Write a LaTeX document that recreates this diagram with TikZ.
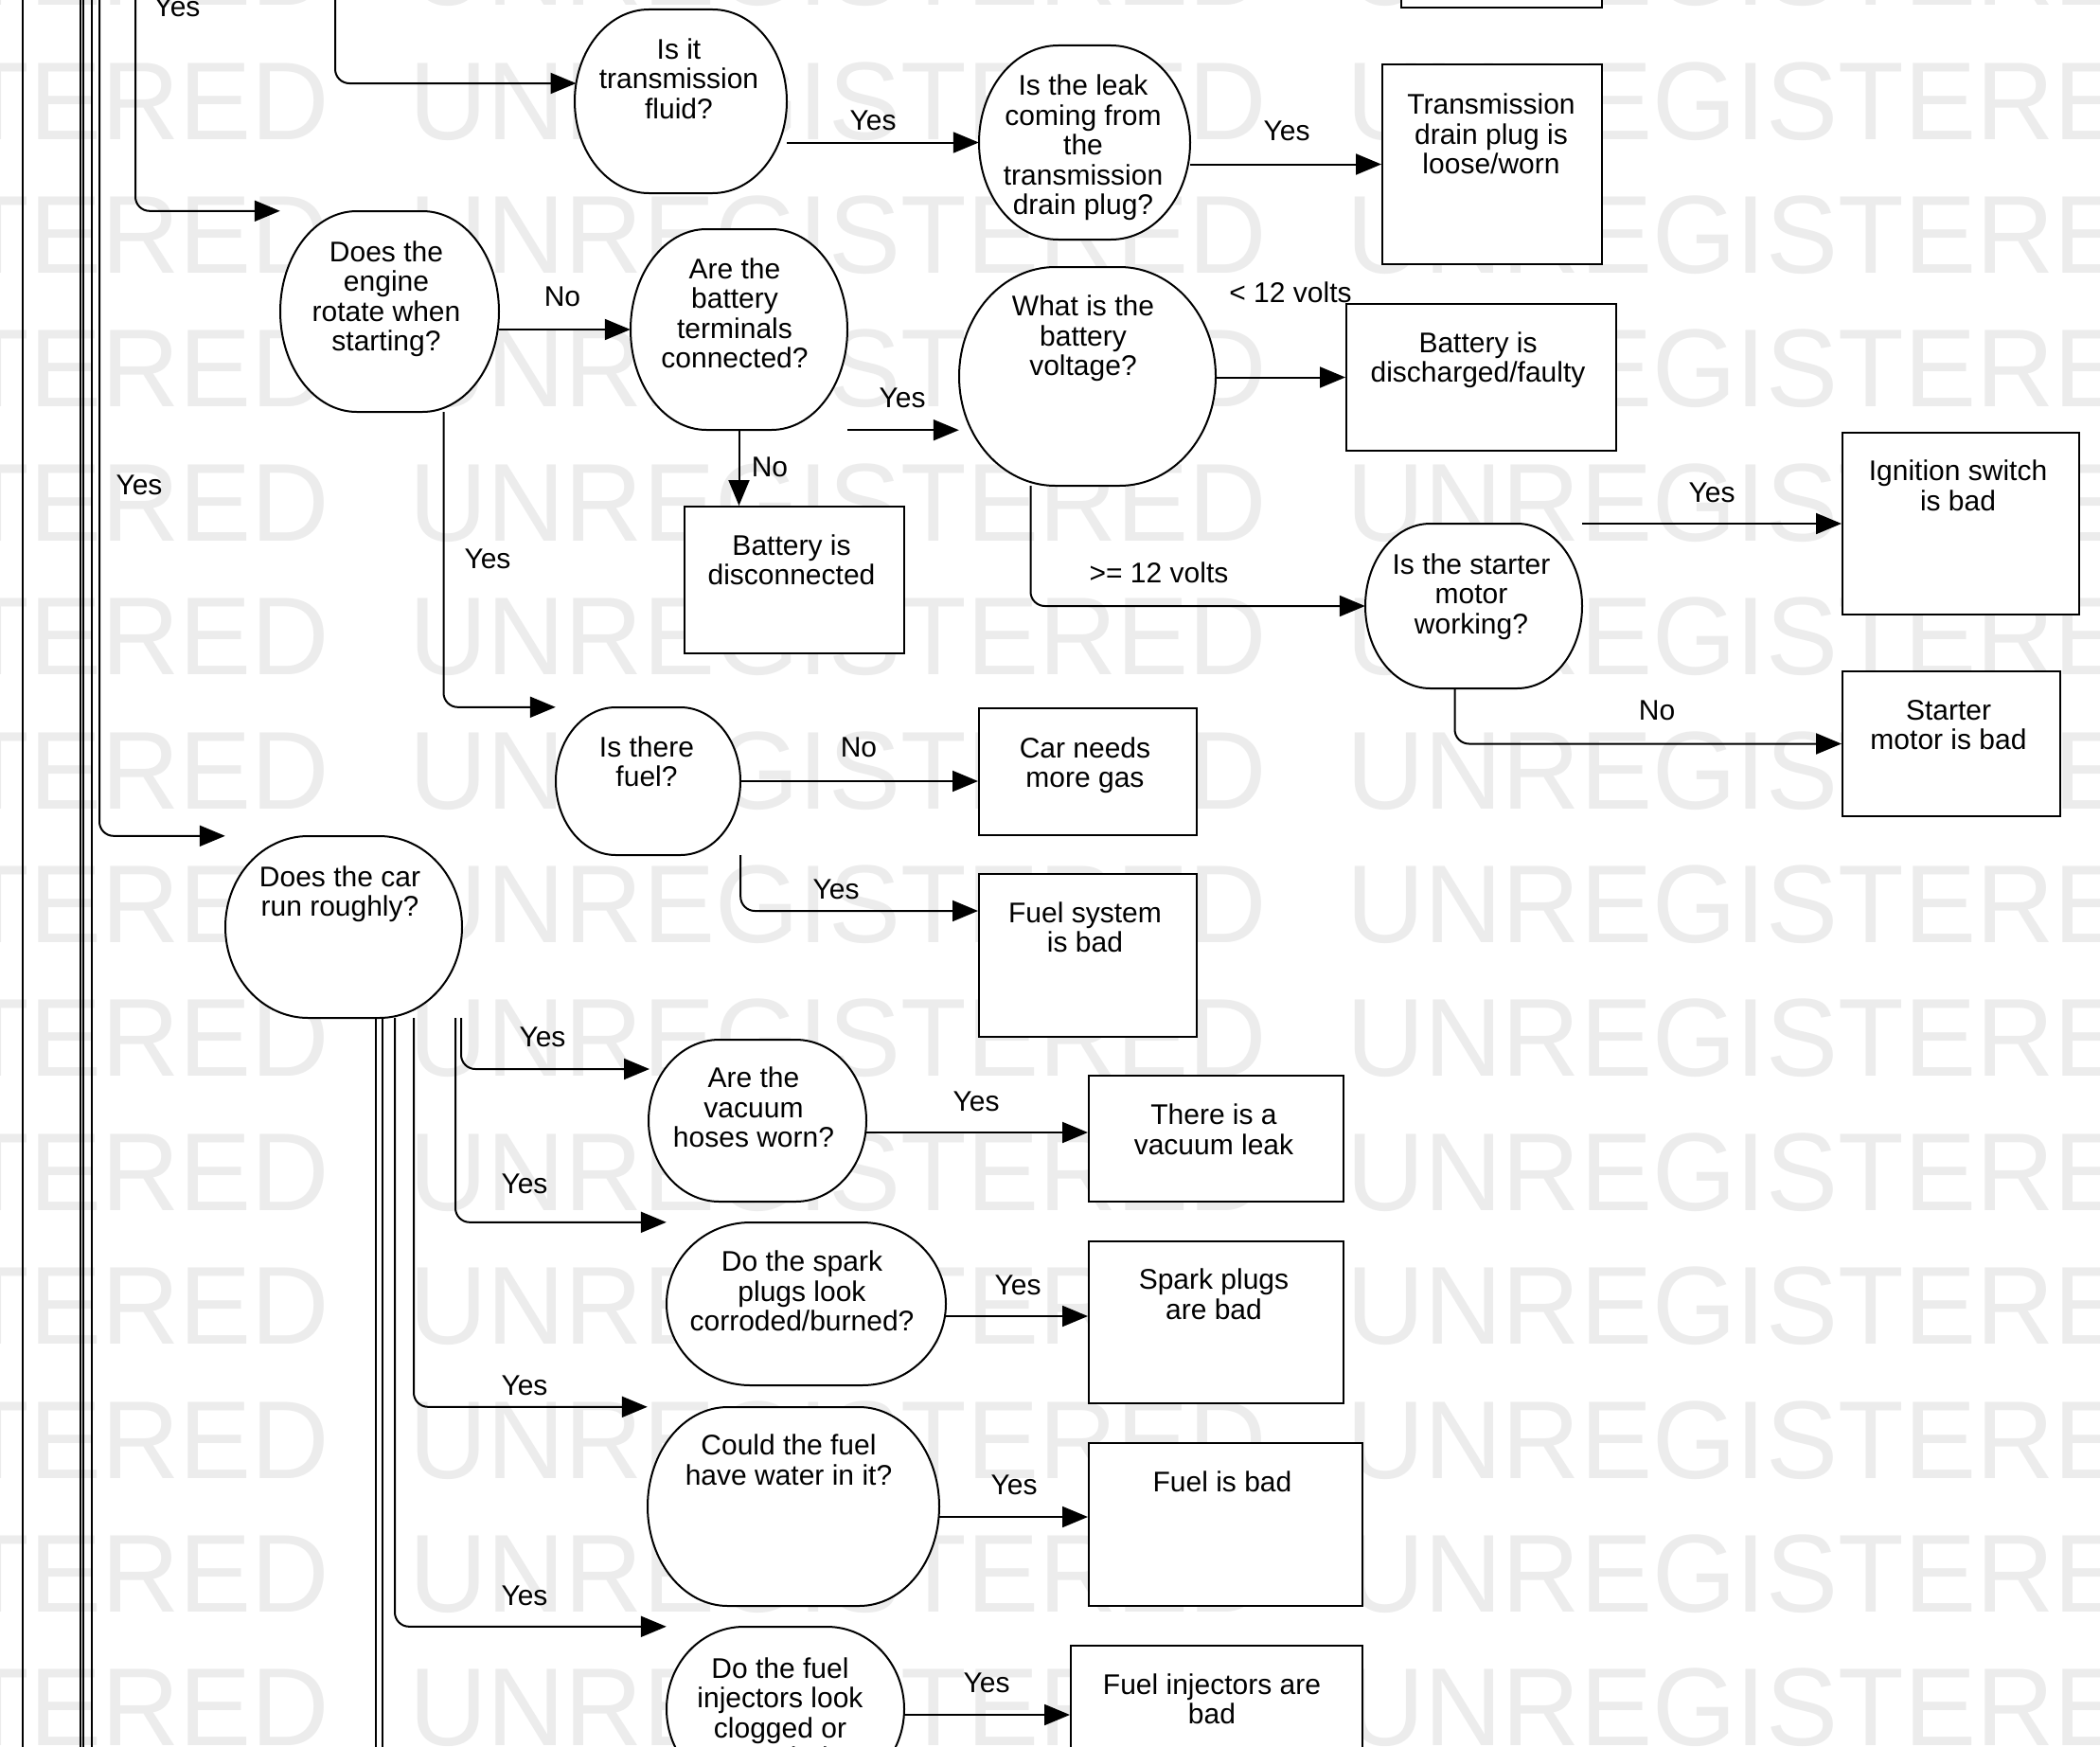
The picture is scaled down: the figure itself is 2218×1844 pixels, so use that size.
\documentclass[tikz,border=0pt]{standalone}
\usepackage{fontspec}
\setmainfont{Liberation Sans}
\newfontfamily\wmfont{Liberation Sans}
\usetikzlibrary{arrows.meta,calc,shapes.geometric}
\definecolor{wmgray}{RGB}{236,236,236}
\newcommand\qbubble[6]{%
  \node[qanchor, minimum width=#4pt, minimum height=#5pt] (#1) at (#2,#3) {};
  \pgfmathsetmacro\qqa{#4/2}%
  \pgfmathsetmacro\qqb{#5/2}%
  \pgfmathsetmacro\qql{#4*#6/2}%
  \pgfmathsetmacro\qqkx{0.5523*(\qqa-\qql)}%
  \pgfmathsetmacro\qqky{0.5523*\qqb}%
  \draw[qline] ({#2-\qql},{#3-\qqb}) -- ({#2+\qql},{#3-\qqb})
    .. controls ({#2+\qql+\qqkx},{#3-\qqb}) and ({#2+\qqa},{#3-\qqky}) .. ({#2+\qqa},#3)
    .. controls ({#2+\qqa},{#3+\qqky}) and ({#2+\qql+\qqkx},{#3+\qqb}) .. ({#2+\qql},{#3+\qqb})
    -- ({#2-\qql},{#3+\qqb})
    .. controls ({#2-\qql-\qqkx},{#3+\qqb}) and ({#2-\qqa},{#3+\qqky}) .. ({#2-\qqa},#3)
    .. controls ({#2-\qqa},{#3-\qqky}) and ({#2-\qql-\qqkx},{#3-\qqb}) .. ({#2-\qql},{#3-\qqb}) -- cycle;
}
\begin{document}
\begin{tikzpicture}[x=1pt,y=-1pt,
  txt/.style={font=\fontsize{30}{31.5}\selectfont, align=center, inner sep=0pt,
              execute at begin node=\strut, execute at end node=\strut},
  wm/.style={font=\wmfont\fontsize{117}{120}\selectfont, text=wmgray, inner sep=0pt, anchor=base west},
  qanchor/.style={ellipse, draw=none, inner sep=0pt},
  qline/.style={draw=black, line width=2pt, fill=white},
  box/.style={rectangle, draw=black, line width=2pt, fill=white, inner sep=0pt},
  conn/.style={draw=black, line width=2pt, rounded corners=15pt},
  arr/.style={conn, -{Triangle[length=27pt,width=22pt]}},
]
\fill[white] (0,0) rectangle (2218,1844);
\useasboundingbox (0,0) rectangle (2218,1844);

% watermark
\foreach \r in {-1,0,...,12}{
  \foreach \c in {0,1,2}{
    \node[wm] (wm-\r-\c) at ({-558+990*\c},{147+141.4*\r}) {\scalebox{0.974}[1]{UNREGISTERED}};
  }
}

% left vertical lines
\coordinate (v1a) at (24,-20);  \coordinate (v1b) at (24,1900);
\coordinate (v2a) at (85,-20);  \coordinate (v2b) at (85,1900);
\coordinate (v3a) at (88,-20);  \coordinate (v3b) at (88,1900);
\coordinate (v4a) at (97,-20);  \coordinate (v4b) at (97,1900);
\draw[conn] (v1a) -- (v1b);
\draw[conn] (v2a) -- (v2b);
\draw[conn] (v3a) -- (v3b);
\draw[conn] (v4a) -- (v4b);

% question shapes
\qbubble{e1}{719}{107}{224}{194}{0.3}
\qbubble{e2}{1145.5}{150.5}{223}{205}{0.25}
\qbubble{e3}{411.5}{329}{231}{212}{0.3}
\qbubble{e4}{780.5}{348}{229}{212}{0.3}
\qbubble{e5}{684.5}{825}{195}{156}{0.35}
\qbubble{e6}{1148.5}{397.5}{271}{231}{0.25}
\qbubble{e7}{1556.5}{640}{229}{174}{0.4}
\qbubble{e8}{363}{979}{250}{192}{0.3}
\qbubble{e9}{800}{1183.5}{230}{171}{0.35}
\qbubble{e10}{851.5}{1377}{295}{172}{0.4}
\qbubble{e11}{838}{1591}{308}{210}{0.45}
\qbubble{e12}{829.5}{1805}{251}{174}{0.35}

% result boxes
\node[box, minimum width=212pt, minimum height=108pt] (b0) at (1586,-46) {};
\node[box, minimum width=232pt, minimum height=211pt] (b1) at (1576,173.5) {};
\node[box, minimum width=232pt, minimum height=155pt] (b2) at (839,612.5) {};
\node[box, minimum width=285pt, minimum height=155pt] (b3) at (1564.5,398.5) {};
\node[box, minimum width=250pt, minimum height=192pt] (b4) at (2071,553) {};
\node[box, minimum width=230pt, minimum height=153pt] (b5) at (2061,785.5) {};
\node[box, minimum width=230pt, minimum height=134pt] (b6) at (1149,815) {};
\node[box, minimum width=230pt, minimum height=172pt] (b7) at (1149,1009) {};
\node[box, minimum width=269pt, minimum height=133pt] (b8) at (1284.5,1202.5) {};
\node[box, minimum width=269pt, minimum height=171pt] (b9) at (1284.5,1396.5) {};
\node[box, minimum width=289pt, minimum height=172pt] (b10) at (1294.5,1610) {};
\node[box, minimum width=308pt, minimum height=182pt] (b11) at (1285,1829) {};

% connectors
\coordinate (s1) at (354,-20);
\coordinate (t1) at (608.5,88);
\draw[arr] (s1) |- (t1);
\coordinate (s2) at (143,-20);
\draw[arr] (s2) |- (e3.west |- e3.north);
\coordinate (s3) at (105,-20);
\draw[arr] (s3) |- (e8.west |- e8.north);
\draw[arr] (e1.east |- e2.west) -- (e2.west);
\draw[arr] (e2.east |- b1.west) -- (b1.west);
\draw[arr] (e3.east |- e4.west) -- (e4.west);
\draw[arr] (e4.south) -- (e4.south |- b2.north);
\draw[arr] (e4.east |- e4.south) -- (e6.west |- e4.south);
\draw[arr] (e6.east |- b3.west) -- (b3.west);
\coordinate (s10) at ($(e6.south)+(-60,0)$);
\draw[arr] (s10) |- (e7.west);
\draw[arr] (e7.east |- b4.west) -- (b4.west);
\coordinate (s12) at ($(e7.south)+(-20,0)$);
\draw[arr] (s12) |- (b5.west);
\coordinate (s13) at ($(e3.south)+(57,0)$);
\draw[arr] (s13) |- (e5.west |- e5.north);
\draw[arr] (e5.east) -- (e5.east -| b6.west);
\coordinate (t15) at ($(b7.north west)+(0,40)$);
\draw[arr] (e5.east |- e5.south) |- (t15);

\coordinate (s16a) at ($(e8.south)+(124,0)$);
\coordinate (t16a) at (686,1129);
\draw[arr] (s16a) |- (t16a);
\coordinate (s16b) at ($(e8.south)+(118,0)$);
\draw[arr] (s16b) |- (e10.west |- e10.north);
\coordinate (s16c) at ($(e8.south)+(74,0)$);
\draw[arr] (s16c) |- (e11.west |- e11.north);
\coordinate (s16d) at ($(e8.south)+(54,0)$);
\draw[arr] (s16d) |- (e12.west |- e12.north);
\coordinate (s16e) at ($(e8.south)+(41,0)$);
\draw[conn] (s16e) -- ++(0,900);
\coordinate (s16f) at ($(e8.south)+(34,0)$);
\draw[conn] (s16f) -- ++(0,900);

\coordinate (s17) at ($(e9.east)+(0,12.5)$);
\draw[arr] (s17) -- (s17 -| b8.west);
\coordinate (s18) at ($(e10.east)+(0,13)$);
\draw[arr] (s18) -- (s18 -| b9.west);
\coordinate (s19) at ($(e11.east)+(0,11)$);
\draw[arr] (s19) -- (s19 -| b10.west);
\coordinate (s20) at ($(e12.east)+(0,6)$);
\draw[arr] (s20) -- (s20 -| b11.west);

% shape texts
\node[txt] (e1t) at (717,87.5) {Is it\\transmission\\fluid?};
\node[txt] (e2t) at (1144,157.5) {Is the leak\\coming from\\the\\transmission\\drain plug?};
\node[txt] (e3t) at (408,317.5) {Does the\\engine\\rotate when\\starting?};
\node[txt] (e4t) at (776,335.5) {Are the\\battery\\terminals\\connected?};
\node[txt] (e6t) at (1144,359) {What is the\\battery\\voltage?};
\node[txt] (e7t) at (1554,631.5) {Is the starter\\motor\\working?};
\node[txt] (e5t) at (683,809) {Is there\\fuel?};
\node[txt] (e8t) at (359,946) {Does the car\\run roughly?};
\node[txt] (e9t) at (796,1174) {Are the\\vacuum\\hoses worn?};
\node[txt] (e10t) at (847,1368) {Do the spark\\plugs look\\corroded/burned?};
\node[txt] (e11t) at (833,1546.5) {Could the fuel\\have water in it?};
\node[txt] (e12t) at (824,1813.5) {Do the fuel\\injectors look\\clogged or\\corroded?};

\node[txt] (b1t) at (1575,146) {Transmission\\drain plug is\\loose/worn};
\node[txt] (b2t) at (836,596) {Battery is\\disconnected};
\node[txt] (b3t) at (1561,382) {Battery is\\discharged/faulty};
\node[txt] (b4t) at (2068,517.5) {Ignition switch\\is bad};
\node[txt] (b5t) at (2058,770) {Starter\\motor is bad};
\node[txt] (b6t) at (1146,810) {Car needs\\more gas};
\node[txt] (b7t) at (1146,984) {Fuel system\\is bad};
\node[txt] (b8t) at (1282,1197.5) {There is a\\vacuum leak};
\node[txt] (b9t) at (1282,1371.5) {Spark plugs\\are bad};
\node[txt] (b10t) at (1291,1569) {Fuel is bad};
\node[txt] (b11t) at (1280,1799) {Fuel injectors are\\bad};

% connector labels
\node[txt] (l1) at (187,11.7) {Yes};
\node[txt] (l2) at (922,131) {Yes};
\node[txt] (l3) at (1359,142.5) {Yes};
\node[txt] (l4) at (594,317.5) {No};
\node[txt] (l5) at (813,497.5) {No};
\node[txt] (l6) at (953,424) {Yes};
\node[txt] (l7) at (1363,313.5) {< 12 volts};
\node[txt] (l8) at (1224,609.5) {>= 12 volts};
\node[txt] (l9) at (1808,524.5) {Yes};
\node[txt] (l10) at (1750,754.5) {No};
\node[txt] (l11) at (515,594.5) {Yes};
\node[txt] (l12) at (147,516.5) {Yes};
\node[txt] (l13) at (907,793.5) {No};
\node[txt] (l14) at (883,943.5) {Yes};
\node[txt] (l15) at (573,1099.5) {Yes};
\node[txt] (l16) at (554,1254.5) {Yes};
\node[txt] (l17) at (1031,1167.5) {Yes};
\node[txt] (l18) at (1075,1361.5) {Yes};
\node[txt] (l19) at (554,1467.5) {Yes};
\node[txt] (l20) at (554,1689.5) {Yes};
\node[txt] (l21) at (1071,1572.5) {Yes};
\node[txt] (l22) at (1042,1781.5) {Yes};
\end{tikzpicture}
\end{document}
